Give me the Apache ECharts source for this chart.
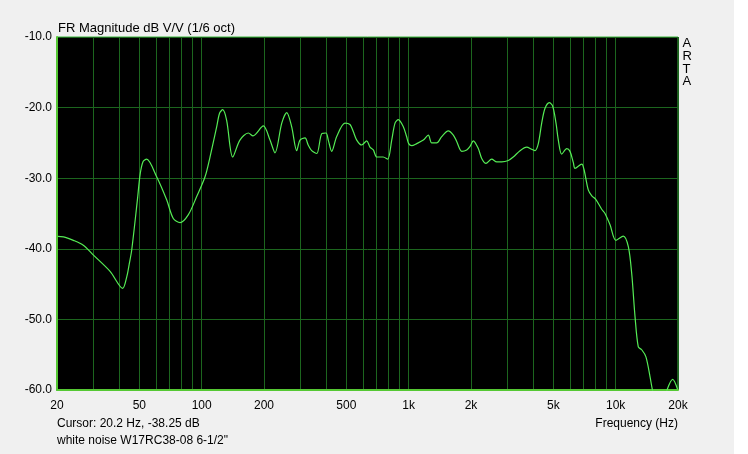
<!DOCTYPE html>
<html>
<head>
<meta charset="utf-8">
<script src="https://cdn.jsdelivr.net/npm/echarts@6/dist/echarts.min.js"></script>
<style>
html,body{margin:0;padding:0;background:#ffffff;}
#chart{width:734px;height:454px;}
</style>
</head>
<body>
<div id="chart"></div>
<script>
const freqs = [20.2, 21.5, 24, 26.8, 30, 36.1, 41.5, 43.5, 44.7, 45.9, 48.9, 50.4, 52, 54.2, 60.6, 67.8, 72.9, 78.6, 86.1, 94.6,
  103.8, 109.7, 118.2, 122, 126.3, 132, 141.2, 153, 168, 177, 198.5, 213.8, 226, 243.7, 257.6, 272, 287.8, 298.5, 315.7, 327,
  340, 359.6, 380, 398.8, 408.8, 424.7, 449, 492, 520.7, 540, 561, 593, 627, 650, 675, 700.8, 753, 792, 828, 859,
  891, 942, 977, 1000, 1034, 1094, 1177, 1244, 1292, 1365, 1444, 1553, 1643, 1706, 1804, 1907, 1979, 2052, 2169, 2253,
  2363, 2518, 2663, 2814, 3028, 3201, 3450, 3716, 3927, 4075, 4229, 4391, 4556, 4776, 4963, 5149, 5283, 5485, 5800, 6016,
  6244, 6360, 6856, 7035, 7379, 7667, 8012, 8560, 8880, 9391, 10030, 10885, 11510, 11950, 12400, 12860, 13360, 14000, 14650, 15030,
  16000, 17000, 17750, 18850, 19900];
const magnitudes = [-38.25, -38.3, -38.8, -39.5, -40.9, -43.2, -45.6, -43.9, -42.1, -40.2, -33.1, -29.5, -27.7, -27.3, -29.8, -33.1, -35.7, -36.3, -35.2, -32.6,
  -29.8, -27.0, -22.7, -20.8, -20.3, -21.8, -27.0, -24.6, -23.6, -24.0, -22.6, -24.6, -26.4, -22.2, -20.7, -22.7, -26.1, -24.6, -24.3, -25.3,
  -26.1, -26.5, -23.7, -23.6, -24.6, -26.2, -24.1, -22.2, -22.4, -23.4, -24.6, -25.3, -24.7, -25.6, -26.0, -27.0, -27.0, -27.3, -24.6, -22.2,
  -21.7, -22.7, -24.1, -25.1, -25.4, -25.1, -24.6, -23.9, -25.0, -25.0, -24.1, -23.3, -23.9, -24.8, -26.2, -26.0, -25.5, -24.7, -25.8, -27.2,
  -27.9, -27.3, -27.7, -27.7, -27.5, -27.0, -26.1, -25.6, -25.9, -26.1, -25.1, -22.2, -20.1, -19.3, -19.8, -22.2, -24.6, -26.6, -25.8, -26.2,
  -27.8, -28.6, -28.0, -28.8, -31.7, -32.5, -33.0, -34.4, -35.0, -36.6, -38.8, -38.2, -39.7, -43.5, -49.6, -53.9, -54.3, -55.3, -58.1, -59.9,
  -63.0, -62.0, -59.9, -58.5, -59.9];
const gridFreqs = [20, 30, 40, 50, 60, 70, 80, 90, 100, 200, 300, 400, 500, 600, 700, 800, 900,
  1000, 2000, 3000, 4000, 5000, 6000, 7000, 8000, 9000, 10000, 20000];
const xTickLabels = [20, 50, 100, 200, 500, 1000, 2000, 5000, 10000, 20000];
const yTicks = [-60, -50, -40, -30, -20, -10];

const titleText = 'FR Magnitude dB V/V (1/6 oct)';
const cursorText = 'Cursor: 20.2 Hz, -38.25 dB';
const noteText = 'white noise W17RC38-08 6-1/2"';
const xName = 'Frequency (Hz)';

const FONT = '"Liberation Sans", Arial, sans-serif';
const chart = echarts.init(document.getElementById('chart'), null, {renderer: 'canvas'});
const data = freqs.map((f, i) => [f, magnitudes[i]]);

chart.setOption({
  backgroundColor: '#f0f0f0',
  animation: false,
  textStyle: {fontFamily: FONT},
  grid: {left: 57, top: 37, width: 621, height: 353, show: true, backgroundColor: '#000000', borderColor: '#3cb43c', borderWidth: 1},
  title: {text: titleText, left: 53, top: 17, textStyle: {fontFamily: FONT, fontSize: 13, fontWeight: 'normal', color: '#000'}},
  xAxis: {
    type: 'log', logBase: 10, min: 20, max: 20000,
    axisLine: {show: true, onZero: false, lineStyle: {color: '#55c833', width: 2}},
    axisTick: {show: false, customValues: gridFreqs},
    splitLine: {show: true, lineStyle: {color: '#1c661e', width: 1}},
    axisLabel: {
      customValues: xTickLabels, margin: 10, color: '#000', fontFamily: FONT, fontSize: 12,
      formatter: v => v >= 1000 ? (v / 1000) + 'k' : String(v)
    }
  },
  yAxis: {
    type: 'value', min: -60, max: -10, interval: 10,
    axisLine: {show: true, lineStyle: {color: '#55c833', width: 2}},
    axisTick: {show: false},
    splitLine: {show: true, lineStyle: {color: '#1c661e', width: 1}},
    axisLabel: {margin: 5, color: '#000', fontFamily: FONT, fontSize: 12, formatter: v => v.toFixed(1),
      customValues: yTicks}
  },
  graphic: [
    {type: 'text', right: 42, top: 37, style: {text: 'A\nR\nT\nA', fill: '#000', font: '13px ' + FONT, lineHeight: 12.8, align: 'center'}},
    {type: 'text', left: 57, top: 418, style: {text: cursorText, fill: '#000', font: '12px ' + FONT}},
    {type: 'text', left: 57, top: 435, style: {text: noteText, fill: '#000', font: '12px ' + FONT}},
    {type: 'text', right: 56, top: 418, style: {text: xName, fill: '#000', font: '12px ' + FONT}}
  ],
  series: [{
    type: 'line', data: data, showSymbol: false, smooth: 0.3, clip: true,
    lineStyle: {color: '#55ec55', width: 1.2}
  }]
});
</script>
</body>
</html>
